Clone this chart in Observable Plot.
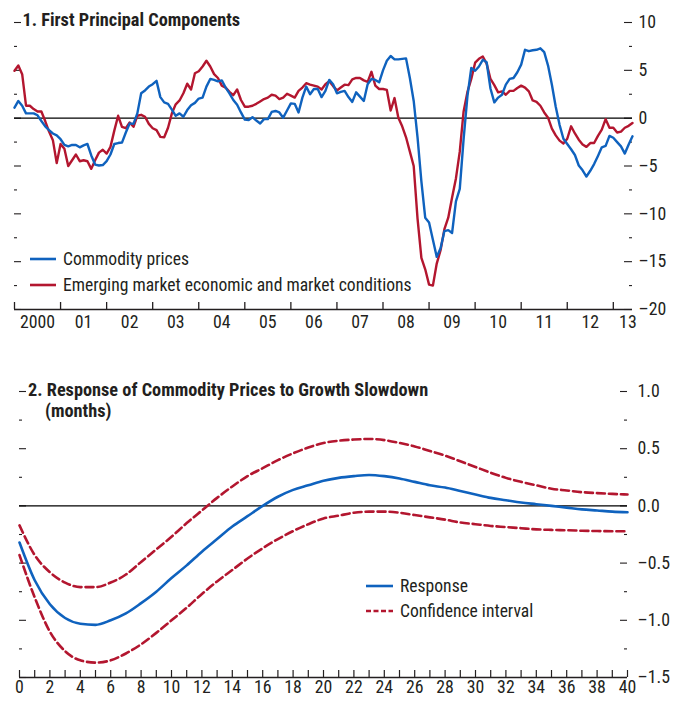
<!DOCTYPE html>
<html><head><meta charset="utf-8">
<script src="https://cdn.jsdelivr.net/npm/d3@7"></script>
<script src="https://cdn.jsdelivr.net/npm/@observablehq/plot@0.6"></script>
<style>
body{margin:0;background:#fff;}
#wrap{position:relative;width:673px;height:708px;overflow:hidden;color:#231f20;
  font-family:"Liberation Sans Narrow","Arial Narrow","Roboto Condensed","DejaVu Sans Condensed","Liberation Sans",sans-serif;}
#wrap svg{display:block;}
.title{position:absolute;font-weight:bold;font-size:18.3px;line-height:21.5px;white-space:nowrap;}
.leg{position:absolute;height:24px;display:flex;align-items:center;font-size:17.6px;white-space:nowrap;}
.leg svg{margin-right:7px;}
</style></head><body><div id="wrap"></div>
<script>
// ---------- Panel 1 data (monthly, Jan 2000 onward) ----------
const startYear = 2000;
const commodity = [
  1.1, 1.8, 1.3, 0.5, 0.5, 0.5, 0.3, -0.3, -0.85, -1.25,
  -1.6, -1.8, -2.2, -2.8, -2.95, -2.8, -2.8, -3.05, -2.85, -2.7,
  -3.9, -4.85, -4.95, -4.9, -4.5, -3.8, -2.7, -2.6, -2.55, -1.5,
  -0.55, -0.6, 0.5, 2.6, 2.9, 3.3, 3.55, 3.9, 2.2, 1.65,
  1.5, 0.9, 0.25, 0.5, 0.15, 0.85, 1.35, 1.6, 2.05, 2.15,
  3.3, 4.1, 4.0, 3.85, 3.95, 3.2, 2.6, 1.9, 1.4, 0.6,
  -0.15, -0.2, 0.1, -0.25, -0.55, -0.1, -0.1, 0.65, 0.75, 0.6,
  0.05, 0.8, 1.55, 1.5, 0.6, 2.15, 3.3, 2.5, 3.05, 3.05,
  2.2, 2.85, 4.0, 3.55, 2.6, 2.75, 2.85, 2.2, 1.7, 2.7,
  2.25, 1.8, 3.55, 4.1, 4.0, 3.75, 5.0, 6.0, 6.5, 6.15,
  6.15, 6.2, 6.25, 4.2, 1.8, -2.0, -6.6, -10.4, -10.9, -12.7,
  -14.5, -13.6, -11.8, -11.7, -12.0, -8.7, -7.4, -2.2, 2.3, 5.25,
  4.95, 5.4, 6.1, 5.85, 3.1, 1.65, 2.15, 2.45, 3.5, 4.1,
  4.2, 4.8, 5.6, 7.15, 7.0, 7.1, 7.15, 7.3, 6.9, 5.5,
  3.5, 1.2, -0.7, -2.15, -2.7, -3.25, -3.85, -4.95, -5.45, -6.1,
  -5.5, -4.8, -3.95, -3.05, -2.9, -1.85, -2.05, -2.5, -2.95, -3.7,
  -2.75, -1.9
];
const emerging = [
  4.95, 5.5, 4.6, 1.3, 1.3, 0.95, 0.7, 0.7, -0.3, -1.4,
  -2.3, -4.7, -2.7, -3.2, -5.0, -4.4, -3.8, -4.5, -4.4, -4.5,
  -5.3, -4.4, -3.6, -3.3, -3.7, -3.0, -1.3, 0.25, -0.9, -1.05,
  -0.45, -0.9, 0.25, 0.35, 0.15, -0.6, -1.05, -1.25, -1.95, -2.0,
  -1.0, 0.5, 1.45, 1.85, 2.6, 3.6, 3.0, 4.7, 4.9, 5.4,
  6.0, 5.4, 4.6, 4.2, 3.4, 3.2, 2.75, 2.4, 3.0, 1.9,
  1.2, 1.2, 1.3, 1.5, 1.75, 2.0, 2.15, 2.45, 2.35, 2.0,
  2.15, 2.55, 2.35, 2.15, 2.85, 3.2, 3.65, 3.5, 3.4, 3.3,
  3.0, 3.55, 3.85, 3.35, 2.9, 3.2, 3.5, 3.45, 4.05, 4.2,
  4.2, 3.95, 3.8, 4.85, 3.4, 3.05, 3.05, 2.95, 0.8, 2.1,
  0.05, -0.85, -2.0, -3.5, -5.0, -10.5, -14.6, -15.8, -17.4, -17.5,
  -15.2, -13.8, -11.6, -10.4, -8.3, -6.3, -3.5, 0.7, 2.75, 4.1,
  5.8, 6.2, 6.45, 5.7, 4.1, 3.45, 2.7, 2.8, 2.45, 2.85,
  2.85, 3.15, 3.4, 3.2, 2.8, 1.85, 1.7, 1.3, 0.6, 0.05,
  -1.1, -1.8, -2.35, -2.65, -2.15, -0.85, -1.6, -2.25, -2.75, -3.0,
  -2.6, -2.6, -1.85, -1.2, -0.1, -1.0, -1.0, -1.5, -1.4, -1.0,
  -0.8, -0.5
];
const seriesNames1 = ["Commodity prices", "Emerging market economic and market conditions"];
const yearTickLabels = ["2000","01","02","03","04","05","06","07","08","09","10","11","12","13"];
const yTicks1 = [10, 5, 0, -5, -10, -15, -20];
const yMinor1 = [7.5, 2.5, -2.5, -7.5, -12.5, -17.5];

// ---------- Panel 2 data (months 0..40) ----------
const responseMonths = d3.range(0, 41);
const response = [
  -0.32, -0.65, -0.86, -0.98, -1.03, -1.04, -1.0, -0.94, -0.85, -0.75,
  -0.63, -0.52, -0.40, -0.29, -0.18, -0.09, 0.0, 0.08, 0.14, 0.18,
  0.22, 0.245, 0.26, 0.27, 0.26, 0.24, 0.21, 0.18, 0.16, 0.13,
  0.10, 0.07, 0.05, 0.03, 0.015, 0.0, -0.015, -0.03, -0.04, -0.05,
  -0.055
];
const ciUpper = [
  -0.17, -0.43, -0.58, -0.67, -0.71, -0.71, -0.67, -0.60, -0.49, -0.38,
  -0.27, -0.15, -0.04, 0.07, 0.17, 0.26, 0.33, 0.40, 0.46, 0.51,
  0.55, 0.57, 0.58, 0.585, 0.575, 0.55, 0.52, 0.48, 0.44, 0.39,
  0.34, 0.29, 0.245, 0.21, 0.18, 0.15, 0.135, 0.12, 0.112, 0.105,
  0.10
];
const ciLower = [
  -0.43, -0.80, -1.10, -1.27, -1.35, -1.37, -1.35, -1.29, -1.21, -1.11,
  -1.0, -0.89, -0.77, -0.66, -0.56, -0.46, -0.37, -0.29, -0.22, -0.16,
  -0.11, -0.085, -0.06, -0.05, -0.05, -0.06, -0.08, -0.10, -0.12, -0.145,
  -0.16, -0.175, -0.185, -0.195, -0.205, -0.21, -0.213, -0.217, -0.22, -0.221,
  -0.222
];
const seriesNames2 = ["Response", "Confidence interval"];
const yTicks2 = [1.0, 0.5, 0.0, -0.5, -1.0, -1.5];
const yMinor2 = [0.75, 0.25, -0.25, -0.75, -1.25];
const xLabelMonths = d3.range(0, 41, 2);

// ---------- style ----------
const FONT = '"Liberation Sans Narrow","Arial Narrow","Roboto Condensed","DejaVu Sans Condensed","Liberation Sans",sans-serif';
const INK = "#231f20";
const BLUE = "#0f62be";
const RED = "#b3162f";
const dash = v => (v < 0 ? "\u2013" : "") + Math.abs(v);
const dash1 = v => (v < 0 ? "\u2013" : "") + Math.abs(v).toFixed(1);

const wrap = document.getElementById("wrap");

// ---------- Panel 1 ----------
const W = 673;
const m1 = {top: 22, right: 41, bottom: 36, left: 14};
const H1 = 345;
const fw1 = W - m1.left - m1.right, fh1 = H1 - m1.top - m1.bottom;
const endT = startYear + (commodity.length - 1) / 12;
const rows1 = [];
commodity.forEach((v, i) => rows1.push({t: startYear + i / 12, v, s: seriesNames1[0]}));
emerging.forEach((v, i) => rows1.push({t: startYear + i / 12, v, s: seriesNames1[1]}));
const yearTicks = d3.range(startYear, startYear + yearTickLabels.length);
const yearLabelRows = yearTickLabels.map((lab, i) => ({t: Math.min(startYear + i + 0.5, endT - 0.1), lab}));

const chart1 = Plot.plot({
  width: W, height: H1,
  marginTop: m1.top, marginRight: m1.right, marginBottom: m1.bottom, marginLeft: m1.left,
  x: {domain: [startYear, endT], axis: null},
  y: {domain: [-20, 10], axis: null},
  style: {fontFamily: FONT, fontSize: "17.8px", color: INK, background: "transparent", overflow: "visible"},
  marks: [
    Plot.tickY(yTicks1, {y: d => d, insetRight: fw1 - 7, stroke: INK, strokeWidth: 1.1}),
    Plot.tickY(yMinor1, {y: d => d, insetRight: fw1 - 3, stroke: INK, strokeWidth: 1.1}),
    Plot.tickY(yTicks1, {y: d => d, insetLeft: fw1 - 8, stroke: INK, strokeWidth: 1.1}),
    Plot.tickY(yMinor1, {y: d => d, insetLeft: fw1 - 3, stroke: INK, strokeWidth: 1.1}),
    Plot.text(yTicks1, {y: d => d, text: dash, frameAnchor: "right", textAnchor: "start", dx: 6, fill: INK}),
    Plot.ruleY([0], {stroke: "#000", strokeWidth: 1.1}),
    Plot.ruleY([-20], {stroke: INK, strokeWidth: 1.3}),
    Plot.tickX(yearTicks, {x: d => d, insetTop: fh1 - 7, stroke: INK, strokeWidth: 1.3}),
    Plot.text(yearLabelRows, {x: "t", text: "lab", frameAnchor: "bottom", dy: 18, fill: INK}),
    Plot.line(rows1.filter(d => d.s === seriesNames1[1]), {x: "t", y: "v", stroke: RED, strokeWidth: 2.4, strokeLinejoin: "round"}),
    Plot.line(rows1.filter(d => d.s === seriesNames1[0]), {x: "t", y: "v", stroke: BLUE, strokeWidth: 2.4, strokeLinejoin: "round"})
  ]
});
wrap.appendChild(chart1);

// ---------- Panel 2 ----------
const m2 = {top: 46, right: 46, bottom: 31, left: 19};
const H2 = 363;
const fw2 = W - m2.left - m2.right, fh2 = H2 - m2.top - m2.bottom;
const rows2 = responseMonths.map((m, i) => ({m, r: response[i], u: ciUpper[i], l: ciLower[i]}));

const chart2 = Plot.plot({
  width: W, height: H2,
  marginTop: m2.top, marginRight: m2.right, marginBottom: m2.bottom, marginLeft: m2.left,
  x: {domain: [0, 40], axis: null},
  y: {domain: [-1.5, 1.0], axis: null},
  style: {fontFamily: FONT, fontSize: "17.8px", color: INK, background: "transparent", overflow: "visible"},
  marks: [
    Plot.tickY(yTicks2, {y: d => d, insetRight: fw2 - 7, stroke: INK, strokeWidth: 1.1}),
    Plot.tickY(yMinor2, {y: d => d, insetRight: fw2 - 3, stroke: INK, strokeWidth: 1.1}),
    Plot.tickY(yTicks2, {y: d => d, insetLeft: fw2 - 7, stroke: INK, strokeWidth: 1.1}),
    Plot.tickY(yMinor2, {y: d => d, insetLeft: fw2 - 3, stroke: INK, strokeWidth: 1.1}),
    Plot.text(yTicks2, {y: d => d, text: dash1, frameAnchor: "right", textAnchor: "start", dx: 10, fill: INK}),
    Plot.ruleY([0], {stroke: "#000", strokeWidth: 1.1}),
    Plot.ruleY([-1.5], {stroke: INK, strokeWidth: 1.3}),
    Plot.tickX(responseMonths, {x: d => d, insetTop: fh2 - 7, stroke: INK, strokeWidth: 1.2}),
    Plot.text(xLabelMonths, {x: d => d, text: d => String(d), frameAnchor: "bottom", dy: 15.5, fill: INK}),
    Plot.line(rows2, {x: "m", y: "u", stroke: RED, strokeWidth: 2.6, strokeDasharray: "8,4", curve: "monotone-x"}),
    Plot.line(rows2, {x: "m", y: "l", stroke: RED, strokeWidth: 2.6, strokeDasharray: "8,4", curve: "monotone-x"}),
    Plot.line(rows2, {x: "m", y: "r", stroke: BLUE, strokeWidth: 2.6, strokeLinejoin: "round", curve: "monotone-x"})
  ]
});
wrap.appendChild(chart2);

// ---------- titles ----------
function addDiv(cls, text, left, top) {
  const d = document.createElement("div");
  d.className = cls; d.textContent = text;
  d.style.left = left + "px"; d.style.top = top + "px";
  wrap.appendChild(d);
  return d;
}
addDiv("title", "1. First Principal Components", 22.5, 8.5);
addDiv("title", "2. Response of Commodity Prices to Growth Slowdown", 28, 378.5);
addDiv("title", "(months)", 45, 400);

// ---------- legends ----------
function legendItem(label, color, dashed, left, cy, len) {
  const d = document.createElement("div");
  d.className = "leg";
  d.style.left = left + "px"; d.style.top = (cy - 12) + "px";
  const svg = d3.create("svg").attr("width", len).attr("height", 6);
  svg.append("line").attr("x1", 0).attr("x2", len).attr("y1", 3).attr("y2", 3)
    .attr("stroke", color).attr("stroke-width", 2.6)
    .attr("stroke-dasharray", dashed ? "5,2.5" : null);
  d.appendChild(svg.node());
  const s = document.createElement("span"); s.textContent = label; d.appendChild(s);
  wrap.appendChild(d);
}
legendItem(seriesNames1[0], BLUE, false, 30, 259, 26);
legendItem(seriesNames1[1], RED, false, 30, 285, 26);
legendItem(seriesNames2[0], BLUE, false, 366, 586, 27);
legendItem(seriesNames2[1], RED, true, 366, 611, 27);
</script></body></html>
